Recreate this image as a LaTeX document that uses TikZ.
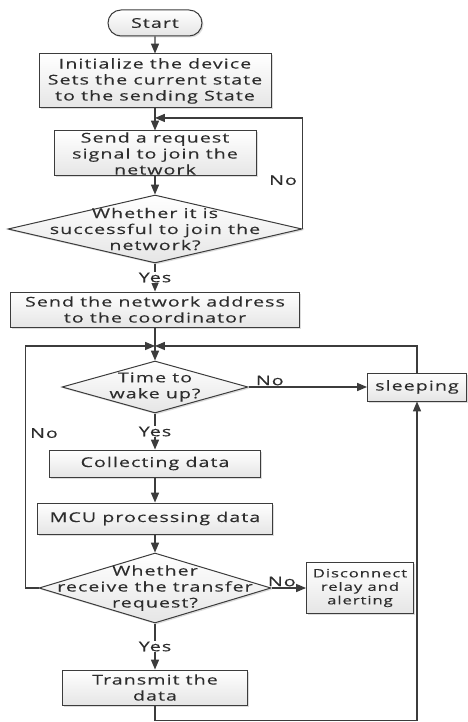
\documentclass[tikz,border=0pt]{standalone}
\usepackage{fontspec}
\setmainfont{Open Sans}[FakeStretch=1.45, LetterSpace=8, FakeBold=0.3]
\usetikzlibrary{shapes.geometric, shapes.misc, arrows, calc, shadows}

\definecolor{line-gray}{RGB}{60,60,60}
\definecolor{text-gray}{RGB}{45,45,45}
\newcommand{\mainsize}{\fontsize{13.5}{16}\selectfont}
\newcommand{\smallsize}{\fontsize{11.5}{13.5}\selectfont}

\tikzstyle{base} = [draw=line-gray, line width=1pt, top color=white, bottom color=gray!20, drop shadow={shadow xshift=1.5pt, shadow yshift=-1.5pt, fill=gray!55}, text=text-gray]
\tikzstyle{start-stop} = [base, rounded rectangle, minimum width=96pt, minimum height=26pt, inner sep=1pt, font=\mainsize]
\tikzstyle{process} = [base, rectangle, inner sep=1pt, align=center, font=\mainsize]
\tikzstyle{decision} = [base, diamond, inner sep=0pt]
\tikzstyle{arrow} = [draw=line-gray, line width=1.3pt, ->, >=triangle 45]
\tikzstyle{tag} = [font=\mainsize, text=text-gray, inner sep=1pt]

\begin{document}
\begin{tikzpicture}[x=1pt, y=1pt, every label/.style={align=center, font=\mainsize, text=text-gray, inner sep=0pt}]
\useasboundingbox (0,0) rectangle (467,-722);

% joining the network
\node (start) [start-stop] at (155,-23) {Start};
\node (init) [process, below of=start, node distance=58pt, minimum width=232pt, minimum height=54pt] {Initialize the device\\Sets the current state\\to the sending State};
\node (req) [process, below of=init, node distance=72.5pt, minimum width=202pt, minimum height=45pt] {Send a request\\signal to join the\\network};
\node (join) [decision, below of=req, node distance=75.5pt, minimum width=294pt, minimum height=68pt, label={center:{Whether it is\\successful to join the\\network?}}] {};
\node (addr) [process, below of=join, node distance=80.5pt, minimum width=289pt, minimum height=35pt] {Send the network address\\to the coordinator};

% main loop
\node (wake) [decision, below of=addr, node distance=77.5pt, minimum width=186pt, minimum height=52pt, label={center:{Time to\\wake up?}}] {};
\node (sleep) [process, right of=wake, node distance=262pt, minimum width=99pt, minimum height=28pt] {sleeping};
\node (collect) [process, below of=wake, node distance=76.5pt, minimum width=211pt, minimum height=27pt] {Collecting data};
\node (mcu) [process, below of=collect, node distance=55pt, minimum width=235pt, minimum height=31pt] {MCU processing data};
\node (transfer) [decision, below of=mcu, node distance=69.5pt, minimum width=232pt, minimum height=70pt, label={center:{Whether\\receive the transfer\\request?}}] {};
\node (alarm) [process, right of=transfer, node distance=205pt, minimum width=107pt, minimum height=51pt, font=\smallsize] {Disconnect\\relay and\\alerting};
\node (send) [process, below of=transfer, node distance=99.5pt, minimum width=185pt, minimum height=35pt] {Transmit the\\data};

\coordinate (j1) at ($(init.south)!0.43!(req.north)$);
\coordinate (j2) at ($(addr.south)!0.56!(wake.north)$);
\coordinate (left-turn) at ([xshift=-13pt]transfer.west);
\coordinate (bottom-turn) at ([yshift=-15pt]send.south);

\draw [arrow] (start) -- (init);
\draw [draw=line-gray, line width=1.3pt] (init) -- (j1);
\draw [arrow] (j1) -- (req);
\draw [arrow] (req) -- (join);
\draw [arrow] (join.east) |- node[tag, pos=0.22, left=4pt] {No} (j1);
\draw [arrow] (join) -- node[tag, fill=white] {Yes} (addr);

\draw [draw=line-gray, line width=1.3pt] (addr) -- (j2);
\draw [arrow] (j2) -- (wake);
\draw [arrow] (wake.east) -- node[tag, pos=0.18, above] {No} (sleep.west);
\draw [arrow] (wake) -- node[tag, fill=white] {Yes} (collect);
\draw [arrow] (collect) -- (mcu);
\draw [arrow] (mcu) -- (transfer);
\draw [arrow] (transfer.east) -- node[tag, pos=0.3, above] {No} (alarm.west);
\draw [arrow] (transfer.west) -- (left-turn) |- node[tag, pos=0.32, right=3pt] {No} (j2);
\draw [arrow] (transfer) -- node[tag, fill=white] {Yes} (send);
\draw [arrow] (sleep.north) |- (j2);
\draw [arrow] (send.south) -- (bottom-turn) -| (sleep.south);

\end{tikzpicture}
\end{document}
